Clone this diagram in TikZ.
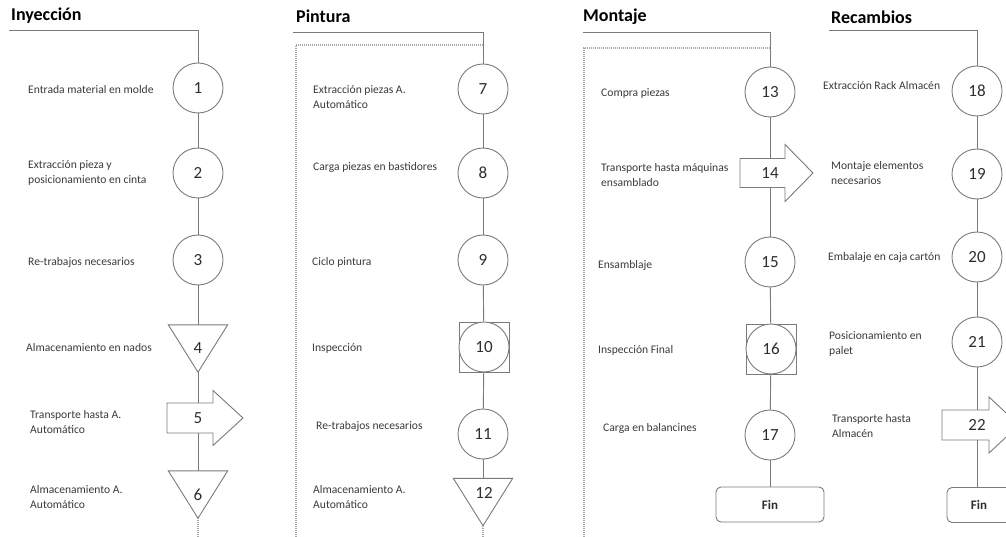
\documentclass[tikz,border=0pt]{standalone}
\usepackage{fontspec}
\setmainfont{Carlito}
\usetikzlibrary{positioning}
\definecolor{linegray}{HTML}{7A7A7A}
\definecolor{dotgray}{HTML}{A8A8A8}
\definecolor{numgray}{HTML}{2E2E2E}
\definecolor{txtgray}{HTML}{3A3A3A}
\tikzset{
  x=1pt, y=1pt,
  shapeline/.style={draw=linegray, line width=0.9pt},
  conn/.style={draw=linegray, line width=0.9pt},
  dotline/.style={draw=dotgray, line width=1.1pt, dash pattern=on 1pt off 1pt},
  opnum/.style={circle, shapeline, minimum size=50, inner sep=0pt, fill=white,
    text=numgray, font=\fontsize{17}{20}\selectfont},
  insbox/.style={rectangle, shapeline, minimum size=50, inner sep=0pt},
  trinum/.style={rectangle, minimum width=59, minimum height=47, inner sep=0pt,
    text=numgray, font=\fontsize{17}{20}\selectfont},
  arrnum/.style={rectangle, minimum width=20, minimum height=30, inner sep=0pt,
    text=numgray, font=\fontsize{17}{20}\selectfont},
  finbox/.style={rectangle, rounded corners=5pt, shapeline, minimum height=35,
    inner sep=0pt, text=numgray, font=\fontsize{13}{15}\bfseries\selectfont},
  steptext/.style={anchor=west, align=left, inner sep=0pt, text=txtgray,
    font=\fontsize{11.6}{15}\selectfont},
  title/.style={anchor=west, inner sep=0pt, text=black,
    font=\fontsize{18}{20}\bfseries\selectfont},
}
% storage triangle around a number node
\newcommand{\storetri}[1]{%
  \draw[shapeline] (#1.north west) -- (#1.north east) -- (#1.south) -- cycle;}
\begin{document}
\begin{tikzpicture}
\useasboundingbox (0,0) rectangle (1006,-537);

% ---------------- Inyección ----------------
\node[title] (h1) at (11,-16) {Inyección};
\coordinate (l1) at (9,-30);
\node[opnum] (c1) at (198,-88) {1};
\node[opnum] (c2) at (198,-173) {2};
\node[opnum] (c3) at (198,-260) {3};
\node[trinum] (t4) at (198,-348.5) {4};
\storetri{t4}
\node[arrnum] (n5) at (198,-418) {5};
\draw[shapeline, shift={(n5.center)}] (-31,15) -- (15,15) -- (15,27.5) -- (45,0)
  -- (15,-27.5) -- (15,-15) -- (-31,-15) -- cycle;
\node[trinum] (t6) at (198,-494.5) {6};
\storetri{t6}
\coordinate (e1) at (198,-537);

\draw[conn] (l1) -| (c1);
\draw[conn] (c1) -- (c2);
\draw[conn] (c2) -- (c3);
\draw[conn] (c3) -- (t4);
\draw[conn] (t4.south) -- (n5.north);
\draw[conn] (n5.south) -- (t6.north);
\draw[dotline] (t6.south) -- (e1);

\node[steptext] (d1) at (28,-90) {Entrada material en molde};
\node[steptext] (d2) at (28,-172.5) {Extracción pieza y\\posicionamiento en cinta};
\node[steptext] (d3) at (28,-262) {Re-trabajos necesarios};
\node[steptext] (d4) at (26,-348) {Almacenamiento en nados};
\node[steptext] (d5) at (30,-422.5) {Transporte hasta A.\\Automático};
\node[steptext] (d6) at (30,-497.5) {Almacenamiento A.\\Automático};

% ---------------- Pintura ----------------
\node[title] (h2) at (296,-16) {Pintura};
\coordinate (l2) at (293,-32);
\coordinate (b2) at (296,-537);
\coordinate (k2) at (483,-45);
\draw[dotline] (b2) |- (k2);
\node[opnum] (c7) at (483,-89) {7};
\node[opnum] (c8) at (483,-173) {8};
\node[opnum] (c9) at (483,-260) {9};
\node[insbox] (s10) at (484,-347) {};
\node[opnum] (c10) at (484,-347) {10};
\node[opnum] (c11) at (483,-434) {11};
\node[trinum] (t12) at (483,-502) {};
\storetri{t12}
\node[text=numgray, font=\fontsize{17}{20}\selectfont, inner sep=0pt] (m12) at (484,-493) {12};
\coordinate (e2) at (483,-537);

\draw[conn] (l2) -| (c7);
\draw[conn] (c7) -- (c8);
\draw[conn] (c8) -- (c9);
\draw[conn] (c9) -- (s10);
\draw[conn] (s10) -- (c11);
\draw[conn] (c11) -- (t12);
\draw[dotline] (t12.south) -- (e2);

\node[steptext] (d7) at (313,-97.5) {Extracción piezas A.\\Automático};
\node[steptext] (d8) at (313,-167) {Carga piezas en bastidores};
\node[steptext] (d9) at (312,-262) {Ciclo pintura};
\node[steptext] (d10) at (312,-348) {Inspección};
\node[steptext] (d11) at (316,-426) {Re-trabajos necesarios};
\node[steptext] (d12) at (313,-497) {Almacenamiento A.\\Automático};

% ---------------- Montaje ----------------
\node[title] (h3) at (583,-17) {Montaje};
\coordinate (l3) at (583,-32);
\coordinate (b3) at (584,-537);
\coordinate (k3) at (770,-48);
\draw[dotline] (b3) |- (k3);
\node[opnum] (c13) at (770,-92) {13};
\node[arrnum, minimum height=29] (n14) at (770,-173) {14};
\draw[shapeline, shift={(n14.center)}] (-30,14.5) -- (15,14.5) -- (15,28.5) -- (43,0)
  -- (15,-28.5) -- (15,-14.5) -- (-30,-14.5) -- cycle;
\node[opnum] (c15) at (770,-262) {15};
\node[insbox] (s16) at (771,-349) {};
\node[opnum] (c16) at (771,-349) {16};
\node[opnum] (c17) at (770,-435) {17};
\node[finbox, minimum width=108] (f3) at (770,-504.5) {Fin};

\draw[conn] (l3) -| (c13);
\draw[conn] (c13) -- (n14.north);
\draw[conn] (n14.south) -- (c15);
\draw[conn] (c15) -- (s16);
\draw[conn] (s16) -- (c17);
\draw[conn] (c17) -- (f3);

\node[steptext] (d13) at (601,-93) {Compra piezas};
\node[steptext] (d14) at (601,-175.5) {Transporte hasta máquinas\\ensamblado};
\node[steptext] (d15) at (598,-265) {Ensamblaje};
\node[steptext] (d16) at (598,-350) {Inspección Final};
\node[steptext] (d17) at (603,-428) {Carga en balancines};

% ---------------- Recambios ----------------
\node[title] (h4) at (831,-17) {Recambios};
\coordinate (l4) at (829,-30);
\node[opnum] (c18) at (977,-91) {18};
\node[opnum] (c19) at (977,-174) {19};
\node[opnum] (c20) at (977,-257) {20};
\node[opnum] (c21) at (977,-342) {21};
\node[arrnum] (n22) at (977,-425) {22};
\draw[shapeline, shift={(n22.center)}] (-35,15) -- (12,15) -- (12,28) -- (42,0)
  -- (12,-28) -- (12,-15) -- (-35,-15) -- cycle;
\node[finbox, minimum width=64] (f4) at (979,-505) {Fin};

\draw[conn] (l4) -| (c18);
\draw[conn] (c18) -- (c19);
\draw[conn] (c19) -- (c20);
\draw[conn] (c20) -- (c21);
\draw[conn] (c21) -- (n22.north);
\draw[conn] (n22.south) -- (n22.south |- f4.north);

\node[steptext] (d18) at (823,-86) {Extracción Rack Almacén};
\node[steptext] (d19) at (831,-173.5) {Montaje elementos\\necesarios};
\node[steptext] (d20) at (828,-257) {Embalaje en caja cartón};
\node[steptext] (d21) at (829,-343.5) {Posicionamiento en\\palet};
\node[steptext] (d22) at (832,-426) {Transporte hasta\\Almacén};
\end{tikzpicture}
\end{document}
